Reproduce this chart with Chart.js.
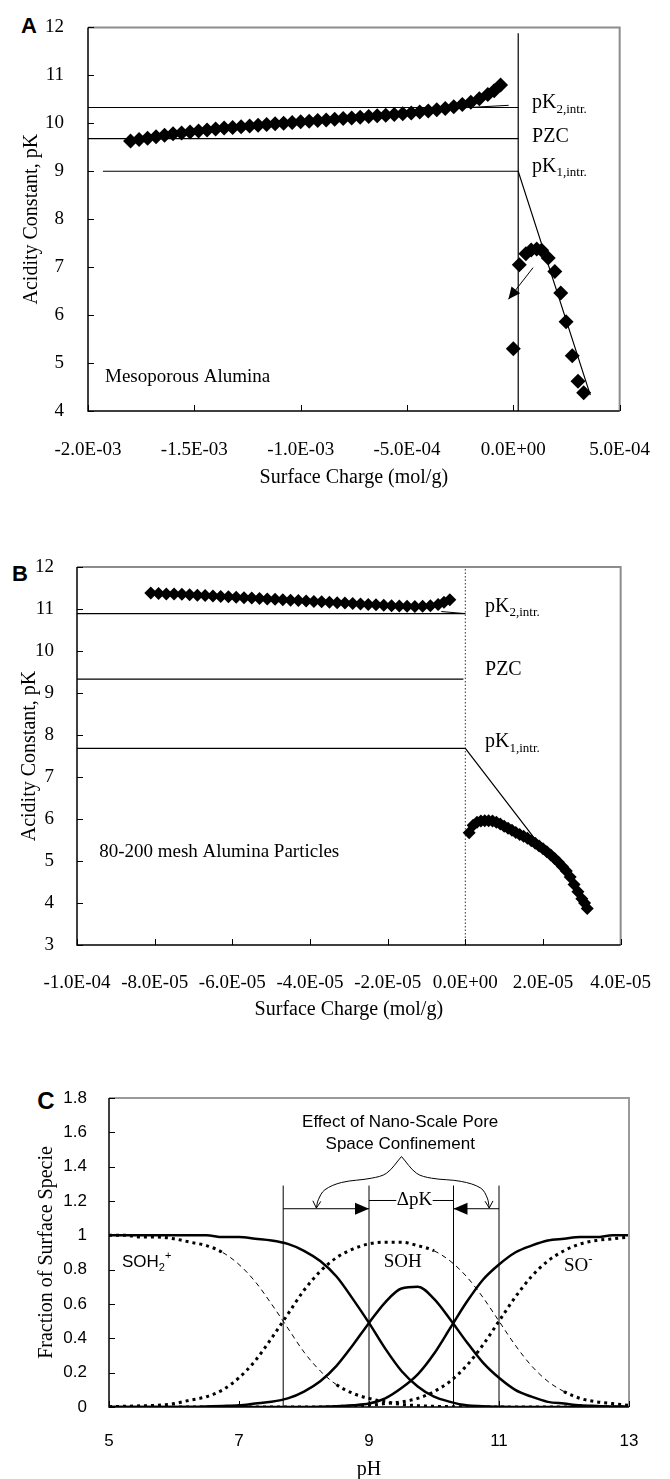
<!DOCTYPE html>
<html>
<head>
<meta charset="utf-8">
<script src="https://cdn.jsdelivr.net/npm/chart.js@4.4.1/dist/chart.umd.min.js"></script>
<style>
  html, body { margin: 0; padding: 0; background: #fff; }
  body { width: 670px; height: 1479px; position: relative; overflow: hidden; }
  canvas { position: absolute; left: 0; }
  .tag { position: absolute; font: bold 22px "Liberation Sans", Arial, sans-serif; line-height: 1; transform: translate(-50%, -50%); }
</style>
</head>
<body>
<div class="tag" style="left:29px;top:26px">A</div>
<div class="tag" style="left:20px;top:574px">B</div>
<div class="tag" style="left:46px;top:1101px;font-size:24px">C</div>
<canvas id="chartA" width="670" height="510" style="top:0"></canvas>
<canvas id="chartB" width="670" height="485" style="top:540px"></canvas>
<canvas id="chartC" width="670" height="409" style="top:1070px"></canvas>
<script>
// ---- Panel A: mesoporous alumina ----
const aNegCharge = [-1.80e-3, -1.76e-3, -1.72e-3, -1.68e-3, -1.64e-3, -1.60e-3, -1.56e-3, -1.52e-3, -1.48e-3, -1.44e-3,
  -1.40e-3, -1.36e-3, -1.32e-3, -1.28e-3, -1.24e-3, -1.20e-3, -1.16e-3, -1.12e-3, -1.08e-3, -1.04e-3,
  -1.00e-3, -0.96e-3, -0.92e-3, -0.88e-3, -0.84e-3, -0.80e-3, -0.76e-3, -0.72e-3, -0.68e-3, -0.64e-3,
  -0.60e-3, -0.56e-3, -0.52e-3, -0.48e-3, -0.44e-3, -0.40e-3, -0.36e-3, -0.32e-3, -0.28e-3, -0.24e-3,
  -0.20e-3, -0.16e-3, -0.12e-3, -0.09e-3, -0.06e-3];
const aNegPK = [9.63, 9.66, 9.69, 9.72, 9.75, 9.78, 9.80, 9.82, 9.84, 9.86,
  9.88, 9.90, 9.915, 9.93, 9.945, 9.96, 9.975, 9.99, 10.00, 10.015,
  10.03, 10.045, 10.06, 10.07, 10.085, 10.10, 10.11, 10.125, 10.14, 10.155,
  10.17, 10.185, 10.20, 10.215, 10.235, 10.255, 10.28, 10.31, 10.345, 10.39,
  10.44, 10.51, 10.60, 10.68, 10.80];
const aPosCharge = [0.0, 2.8e-5, 5.9e-5, 8.4e-5, 1.10e-4, 1.33e-4, 1.64e-4, 1.95e-4, 2.23e-4, 2.48e-4, 2.77e-4, 3.04e-4, 3.31e-4];
const aPosPK = [5.30, 7.05, 7.28, 7.36, 7.38, 7.35, 7.19, 6.91, 6.46, 5.86, 5.15, 4.62, 4.38];
const aPK2 = 10.33, aPZC = 9.68, aPK1 = 9.0;
const aZero = 2.3e-5;            // vertical line at zero charge
const aSlopeEnd = [3.62e-4, 4.33];

// ---- Panel B: 80-200 mesh particles ----
const bNegCharge = [-8.1e-5, -7.9e-5, -7.7e-5, -7.5e-5, -7.3e-5, -7.1e-5, -6.9e-5, -6.7e-5, -6.5e-5, -6.3e-5,
  -6.1e-5, -5.9e-5, -5.7e-5, -5.5e-5, -5.3e-5, -5.1e-5, -4.9e-5, -4.7e-5, -4.5e-5, -4.3e-5,
  -4.1e-5, -3.9e-5, -3.7e-5, -3.5e-5, -3.3e-5, -3.1e-5, -2.9e-5, -2.7e-5, -2.5e-5, -2.3e-5,
  -2.1e-5, -1.9e-5, -1.7e-5, -1.5e-5, -1.3e-5, -1.1e-5, -0.9e-5, -0.7e-5, -0.55e-5, -0.4e-5];
const bNegPK = [11.38, 11.37, 11.36, 11.355, 11.35, 11.34, 11.33, 11.32, 11.31, 11.30,
  11.29, 11.28, 11.27, 11.26, 11.25, 11.24, 11.23, 11.22, 11.21, 11.20,
  11.19, 11.18, 11.17, 11.16, 11.15, 11.14, 11.13, 11.12, 11.11, 11.10,
  11.09, 11.08, 11.07, 11.065, 11.06, 11.065, 11.08, 11.11, 11.16, 11.22];
const bPosCharge = [0.10e-5, 0.20e-5, 0.30e-5, 0.40e-5, 0.50e-5, 0.60e-5, 0.70e-5, 0.80e-5, 0.90e-5, 1.00e-5,
  1.10e-5, 1.20e-5, 1.30e-5, 1.40e-5, 1.50e-5, 1.60e-5, 1.70e-5, 1.80e-5, 1.90e-5, 2.00e-5,
  2.10e-5, 2.20e-5, 2.30e-5, 2.40e-5, 2.50e-5, 2.60e-5, 2.70e-5, 2.80e-5, 2.90e-5, 3.00e-5, 3.07e-5, 3.14e-5];
const bPosPK = [5.67, 5.85, 5.92, 5.95, 5.96, 5.96, 5.95, 5.92, 5.88, 5.83,
  5.78, 5.73, 5.68, 5.63, 5.59, 5.54, 5.48, 5.42, 5.36, 5.29,
  5.22, 5.14, 5.06, 4.97, 4.87, 4.76, 4.62, 4.44, 4.27, 4.10, 4.00, 3.87];
const bPK2 = 10.89, bPZC = 9.33, bPK1 = 7.68;
const bSlopeEnd = [1.846e-5, 5.46];

// ---- Panel C: speciation curves ----
const cPH = [5, 5.25, 5.5, 5.75, 6, 6.25, 6.5, 6.75, 7, 7.25, 7.5, 7.75, 8, 8.25, 8.5, 8.75, 9,
  9.25, 9.5, 9.75, 10, 10.25, 10.5, 10.75, 11, 11.25, 11.5, 11.75, 12, 12.25, 12.5, 12.75, 13];
const cSolidSOH2 = [1.00, 1.00, 1.00, 1.00, 1.00, 1.00, 1.00, 0.99, 0.99, 0.98, 0.97, 0.95, 0.91, 0.85, 0.76, 0.63, 0.49,
  0.34, 0.21, 0.12, 0.06, 0.03, 0.01, 0.005, 0.002, 0, 0, 0, 0, 0, 0, 0, 0];
const cSolidSOH = [0, 0, 0, 0, 0, 0, 0.003, 0.006, 0.01, 0.02, 0.03, 0.05, 0.09, 0.15, 0.24, 0.36, 0.49,
  0.61, 0.69, 0.70, 0.63, 0.51, 0.38, 0.26, 0.17, 0.10, 0.06, 0.03, 0.02, 0.01, 0.006, 0.003, 0.002];
const cSolidSO = [0, 0, 0, 0, 0, 0, 0, 0, 0, 0, 0, 0, 0, 0.001, 0.004, 0.01, 0.02,
  0.05, 0.11, 0.19, 0.31, 0.46, 0.61, 0.74, 0.83, 0.90, 0.94, 0.97, 0.98, 0.99, 0.99, 1.00, 1.00];
const cDashSOH2 = [1.00, 1.00, 0.99, 0.99, 0.98, 0.96, 0.94, 0.90, 0.83, 0.73, 0.60, 0.46, 0.32, 0.21, 0.13, 0.08, 0.05,
  0.03, 0.015, 0.008, 0.004, 0.002, 0.001, 0, 0, 0, 0, 0, 0, 0, 0, 0, 0];
const cDashSOH = [0.002, 0.004, 0.007, 0.01, 0.02, 0.04, 0.06, 0.10, 0.17, 0.27, 0.40, 0.54, 0.68, 0.79, 0.87, 0.92, 0.95,
  0.96, 0.96, 0.94, 0.91, 0.85, 0.76, 0.64, 0.50, 0.36, 0.24, 0.15, 0.09, 0.05, 0.03, 0.02, 0.01];
const cDashSO = [0, 0, 0, 0, 0, 0, 0, 0, 0, 0, 0, 0, 0, 0, 0.003, 0.005, 0.01,
  0.02, 0.03, 0.05, 0.09, 0.15, 0.24, 0.36, 0.50, 0.64, 0.76, 0.85, 0.91, 0.95, 0.97, 0.98, 0.99];
const cBulkPK = [9.0, 10.3], cNanoPK = [7.68, 11.0];
const cMarkTop = 1.29, cArrowLevel = 1.155, cDeltaLevel = 1.203;
const cBraceLeft = [[9.50, 1.459], [9.27, 1.362], [9.04, 1.333], [8.58, 1.308], [8.32, 1.265], [8.22, 1.207], [8.19, 1.159]];
const cBraceRight = [[9.50, 1.459], [9.73, 1.362], [9.96, 1.333], [10.42, 1.314], [10.72, 1.275], [10.82, 1.217], [10.85, 1.159]];

const SERIF = "'Liberation Serif', 'Times New Roman', serif";
const SANS = "'Liberation Sans', Arial, sans-serif";
Chart.defaults.color = '#000';

function pts(xs, ys) { return xs.map((v, i) => ({ x: v, y: ys[i] })); }

function line(points, extra) {
  return Object.assign({
    data: points.map(p => ({ x: p[0], y: p[1] })),
    showLine: true, pointRadius: 0, borderColor: '#000', borderWidth: 1.2, tension: 0
  }, extra);
}

function markers(xs, ys, r) {
  return { data: pts(xs, ys), pointStyle: 'rectRot', pointRadius: r, backgroundColor: '#000', borderWidth: 0, showLine: false };
}

// Excel style exponent labels, e.g. -2.0E-03
function sci(v) {
  if (Math.abs(v) < 1e-12) v = 0;
  const parts = v.toExponential(1).split('e');
  const n = parseInt(parts[1], 10);
  return parts[0] + 'E' + (n < 0 ? '-' : '+') + String(Math.abs(n)).padStart(2, '0');
}

// frame, inner tick marks, arrow heads and text notes
const decor = {
  id: 'decor',
  afterDatasetsDraw(chart, args, o) {
    const { ctx, chartArea: a } = chart;
    const x = chart.scales.x, y = chart.scales.y;
    ctx.save();
    ctx.lineWidth = 2;
    ctx.strokeStyle = o.frameColor || '#8c8c8c';
    ctx.beginPath();
    ctx.moveTo(a.left, a.top); ctx.lineTo(a.right, a.top); ctx.lineTo(a.right, a.bottom);
    ctx.stroke();
    ctx.lineWidth = 1.5;
    ctx.strokeStyle = '#000';
    ctx.beginPath();
    ctx.moveTo(a.left, a.top); ctx.lineTo(a.left, a.bottom); ctx.lineTo(a.right, a.bottom);
    ctx.stroke();
    ctx.lineWidth = 1;
    x.ticks.forEach(t => {
      const px = Math.round(x.getPixelForValue(t.value)) + 0.5;
      ctx.beginPath(); ctx.moveTo(px, a.bottom); ctx.lineTo(px, a.bottom - 6); ctx.stroke();
    });
    y.ticks.forEach(t => {
      const py = Math.round(y.getPixelForValue(t.value)) + 0.5;
      ctx.beginPath(); ctx.moveTo(a.left, py); ctx.lineTo(a.left + 6, py); ctx.stroke();
    });

    (o.arrows || []).forEach(ar => {
      const x0 = x.getPixelForValue(ar.from[0]), y0 = y.getPixelForValue(ar.from[1]);
      const x1 = x.getPixelForValue(ar.to[0]), y1 = y.getPixelForValue(ar.to[1]);
      const ang = Math.atan2(y1 - y0, x1 - x0);
      const c = Math.cos(ang), s = Math.sin(ang);
      ctx.beginPath();
      ctx.moveTo(x1 - ar.len * c + ar.half * s, y1 - ar.len * s - ar.half * c);
      ctx.lineTo(x1, y1);
      ctx.lineTo(x1 - ar.len * c - ar.half * s, y1 - ar.len * s + ar.half * c);
      if (ar.open) {
        ctx.stroke();
      } else {
        ctx.closePath();
        ctx.fillStyle = '#000';
        ctx.fill();
      }
    });

    ctx.fillStyle = '#000';
    ctx.textBaseline = 'middle';
    ctx.textAlign = 'left';
    (o.notes || []).forEach(n => {
      let px = x.getPixelForValue(n.x);
      const py = y.getPixelForValue(n.y);
      ctx.font = n.font;
      const w = ctx.measureText(n.text).width;
      if (n.center) px -= w / 2;
      ctx.fillText(n.text, px, py);
      let cx = px + w;
      if (n.sub) {
        ctx.font = n.small;
        ctx.fillText(n.sub, cx, py + (n.subDy || 6));
        cx += ctx.measureText(n.sub).width;
      }
      if (n.sup) {
        ctx.font = n.small;
        ctx.fillText(n.sup, cx, py - (n.supDy || 6));
      }
    });
    ctx.restore();
  }
};

function baseOptions(cfg) {
  return {
    responsive: false,
    animation: false,
    layout: { padding: cfg.padding },
    plugins: { legend: { display: false }, tooltip: { enabled: false }, decor: cfg.decor },
    scales: {
      x: {
        type: 'linear', min: cfg.x.min, max: cfg.x.max,
        grid: { display: false }, border: { display: false },
        ticks: {
          stepSize: cfg.x.step, autoSkip: false, maxRotation: 0, padding: cfg.x.tickPad,
          font: { family: cfg.x.family, size: cfg.x.size },
          callback: cfg.x.format || (v => v)
        },
        title: {
          display: true, text: cfg.x.title,
          font: { family: SERIF, size: 20, lineHeight: cfg.x.titleLH || 1.2 },
          padding: { top: 0, bottom: cfg.x.titlePad }
        },
        afterFit: s => { s.height = cfg.x.height; }
      },
      y: {
        type: 'linear', min: cfg.y.min, max: cfg.y.max,
        grid: { display: false }, border: { display: false },
        ticks: {
          stepSize: cfg.y.step, padding: cfg.y.tickPad,
          font: { family: cfg.y.family, size: cfg.y.size },
          callback: cfg.y.format || (v => v)
        },
        title: {
          display: true, text: cfg.y.title,
          font: { family: SERIF, size: 20 },
          padding: { top: cfg.y.titlePad, bottom: 0 }
        },
        afterFit: s => { s.width = cfg.y.width; }
      }
    }
  };
}

const serif20 = '20px ' + SERIF, serif13 = '13px ' + SERIF;

// ---- chart A ----
new Chart(document.getElementById('chartA'), {
  type: 'scatter',
  data: {
    datasets: [
      markers(aNegCharge, aNegPK, 7.5),
      markers(aPosCharge, aPosPK, 7.5),
      line([[-2.0e-3, aPK2], [aZero, aPK2]]),
      line([[-2.0e-3, aPZC], [aZero, aPZC]]),
      line([[-1.93e-3, aPK1], [aZero, aPK1], aSlopeEnd]),
      line([[aZero, 4], [aZero, 11.88]]),
      line([[-2.5e-4, 10.32], [-0.22e-4, 10.375]], { borderWidth: 1 }),
      line([[0.93e-4, 6.99], [-0.23e-4, 6.33]], { borderWidth: 1 })
    ]
  },
  options: baseOptions({
    padding: { left: 0, right: 44, top: 20, bottom: 0 },
    x: { min: -2.0e-3, max: 5.0e-4, step: 5.0e-4, tickPad: 20, family: SERIF, size: 19, format: sci,
         title: 'Surface Charge (mol/g)', titlePad: 20, height: 99 },
    y: { min: 4, max: 12, step: 1, tickPad: 16, family: SERIF, size: 19,
         title: 'Acidity Constant, pK', titlePad: 20, width: 88 },
    decor: {
      arrows: [{ from: [0.93e-4, 6.99], to: [-0.23e-4, 6.33], len: 12, half: 5.5 }],
      notes: [
        { x: 0.88e-4, y: 10.42, text: 'pK', sub: '2,intr.', font: serif20, small: serif13 },
        { x: 0.88e-4, y: 9.71, text: 'PZC', font: serif20 },
        { x: 0.88e-4, y: 9.09, text: 'pK', sub: '1,intr.', font: serif20, small: serif13 },
        { x: -1.92e-3, y: 4.70, text: 'Mesoporous Alumina', font: '19px ' + SERIF }
      ]
    }
  }),
  plugins: [decor]
});

// ---- chart B ----
new Chart(document.getElementById('chartB'), {
  type: 'scatter',
  data: {
    datasets: [
      markers(bNegCharge, bNegPK, 6.5),
      markers(bPosCharge, bPosPK, 6.5),
      line([[-1.0e-4, bPK2], [0, bPK2]]),
      line([[-1.0e-4, bPZC], [-0.05e-5, bPZC]]),
      line([[-1.0e-4, bPK1], [0, bPK1], bSlopeEnd]),
      line([[-0.62e-5, 10.94], [0, bPK2]], { borderWidth: 1 }),
      line([[0, 3], [0, 12]], { borderColor: '#333', borderWidth: 1, borderDash: [1.5, 2] })
    ]
  },
  options: baseOptions({
    padding: { left: 0, right: 30, top: 27, bottom: 0 },
    x: { min: -1.0e-4, max: 4.0e-5, step: 2.0e-5, tickPad: 19, family: SERIF, size: 19, format: sci,
         title: 'Surface Charge (mol/g)', titlePad: 3, height: 80 },
    y: { min: 3, max: 12, step: 1, tickPad: 15, family: SERIF, size: 19,
         title: 'Acidity Constant, pK', titlePad: 18, width: 77 },
    decor: {
      notes: [
        { x: 0.507e-5, y: 11.05, text: 'pK', sub: '2,intr.', font: serif20, small: serif13 },
        { x: 0.507e-5, y: 9.55, text: 'PZC', font: serif20 },
        { x: 0.507e-5, y: 7.83, text: 'pK', sub: '1,intr.', font: serif20, small: serif13 },
        { x: -9.43e-5, y: 5.21, text: '80-200 mesh Alumina Particles', font: '19px ' + SERIF }
      ]
    }
  }),
  plugins: [decor]
});

// ---- chart C ----
const thickDash = { borderWidth: 3, borderDash: [3, 4] };
const thinDash = { borderWidth: 1, borderDash: [5, 4] };
function dashed(ys) {
  // steeply falling stretches are printed as thin dashes, the rest as heavy dots
  return {
    data: pts(cPH, ys), showLine: true, pointRadius: 0, borderColor: '#000', borderCapStyle: 'butt',
    cubicInterpolationMode: 'monotone', borderWidth: 3, borderDash: [3, 4],
    segment: {
      borderWidth: c => (c.p0.parsed.y - c.p1.parsed.y > 0.05 ? thinDash.borderWidth : thickDash.borderWidth),
      borderDash: c => (c.p0.parsed.y - c.p1.parsed.y > 0.05 ? thinDash.borderDash : thickDash.borderDash)
    }
  };
}
function solid(ys) {
  return { data: pts(cPH, ys), showLine: true, pointRadius: 0, borderColor: '#000', borderWidth: 2.5, cubicInterpolationMode: 'monotone' };
}

const cVert = [cNanoPK[0], cBulkPK[0], cBulkPK[1], cNanoPK[1]].map(v => line([[v, 0], [v, cMarkTop]], { borderWidth: 1 }));

new Chart(document.getElementById('chartC'), {
  type: 'scatter',
  data: {
    datasets: [
      solid(cSolidSOH2), solid(cSolidSOH), solid(cSolidSO),
      dashed(cDashSOH2), dashed(cDashSOH), dashed(cDashSO),
      ...cVert,
      line([[cNanoPK[0], cArrowLevel], [cBulkPK[0], cArrowLevel]], { borderWidth: 1 }),
      line([[cNanoPK[1], cArrowLevel], [cBulkPK[1], cArrowLevel]], { borderWidth: 1 }),
      line([[cBulkPK[0], cDeltaLevel], [9.42, cDeltaLevel]], { borderWidth: 1 }),
      line([[9.98, cDeltaLevel], [cBulkPK[1], cDeltaLevel]], { borderWidth: 1 }),
      line(cBraceLeft, { borderWidth: 1, tension: 0.35 }),
      line(cBraceRight, { borderWidth: 1, tension: 0.35 })
    ]
  },
  options: baseOptions({
    padding: { left: 0, right: 41, top: 28, bottom: 0 },
    x: { min: 5, max: 13, step: 2, tickPad: 16, family: SANS, size: 17,
         title: 'pH', titlePad: -1, titleLH: 1, height: 72 },
    y: { min: 0, max: 1.8, step: 0.2, tickPad: 14, family: SANS, size: 17,
         format: v => String(Math.round(v * 10) / 10),
         title: 'Fraction of Surface Specie', titlePad: 35, width: 109 },
    decor: {
      frameColor: '#9a9a9a',
      arrows: [
        { from: [8.8, cArrowLevel], to: [cBulkPK[0], cArrowLevel], len: 14, half: 6 },
        { from: [10.5, cArrowLevel], to: [cBulkPK[1], cArrowLevel], len: 14, half: 6 },
        { from: [8.20, 1.21], to: [8.19, 1.159], len: 7, half: 4, open: true },
        { from: [10.845, 1.21], to: [10.85, 1.159], len: 7, half: 4, open: true }
      ],
      notes: [
        { x: 9.48, y: 1.656, text: 'Effect of Nano-Scale Pore', font: '17px ' + SANS, center: true },
        { x: 9.48, y: 1.528, text: 'Space Confinement', font: '17px ' + SANS, center: true },
        { x: 9.70, y: cDeltaLevel, text: '\u0394pK', font: '19px ' + SERIF, center: true },
        { x: 5.2, y: 0.84, text: 'SOH', sub: '2', sup: '+', font: '17px ' + SANS, small: '11px ' + SANS, subDy: 5, supDy: 7 },
        { x: 9.52, y: 0.847, text: 'SOH', font: '19px ' + SERIF, center: true },
        { x: 12.0, y: 0.82, text: 'SO', sup: '-', font: '19px ' + SERIF, small: '13px ' + SERIF, supDy: 7 }
      ]
    }
  }),
  plugins: [decor]
});
</script>
</body>
</html>
